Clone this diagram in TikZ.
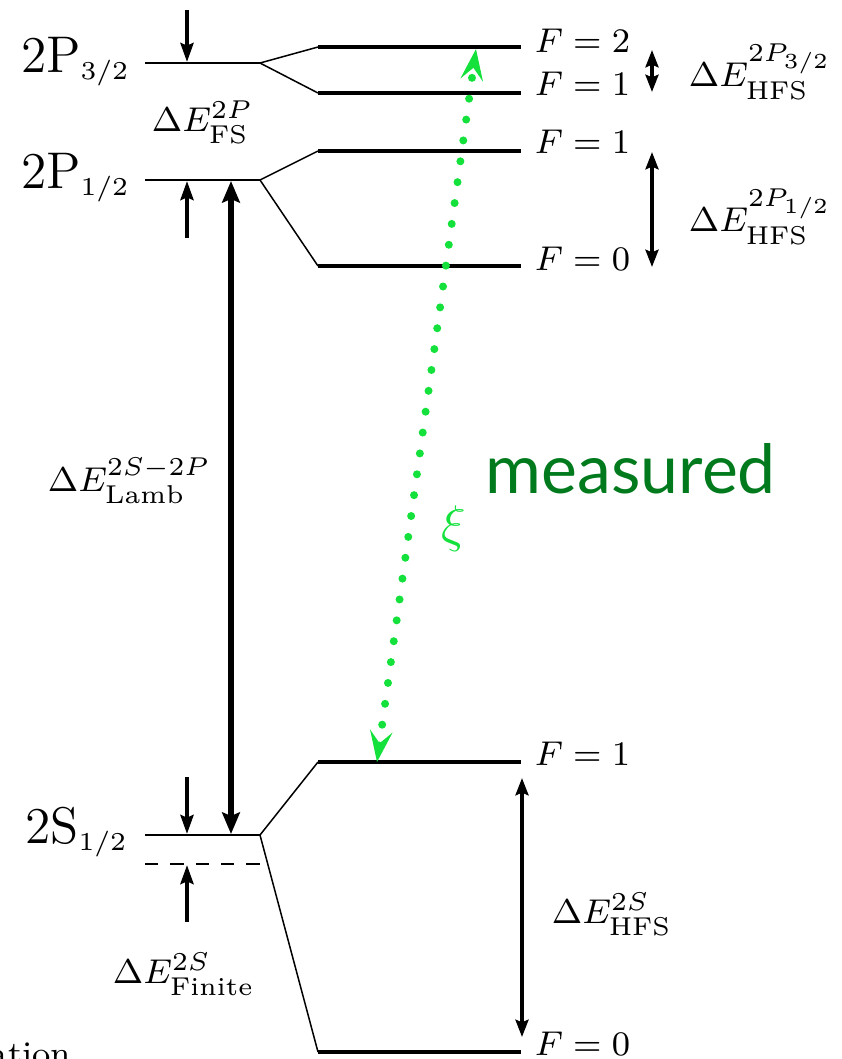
\documentclass[tikz,border=0pt]{standalone}
\usepackage{fontspec}
\newfontfamily\measfont{Lato}
\usetikzlibrary{arrows.meta}
\definecolor{lgreen}{RGB}{20,225,60}
\definecolor{dgreen}{RGB}{0,122,28}
\begin{document}
\begin{tikzpicture}[x=0.2326pt,y=-0.2326pt,
  lvl/.style={line width=0.63pt},
  hfslvl/.style={line width=0.95pt},
  fan/.style={line width=0.35pt},
  finlvl/.style={line width=0.63pt,dash pattern=on 3.1pt off 2.8pt},
  sarr/.style={line width=1.15pt,-{Stealth[length=4.4pt,width=3pt,inset=0.6pt]}},
  lambarr/.style={line width=1.6pt,{Stealth[length=5pt,width=4.1pt,inset=0.8pt]}-{Stealth[length=5pt,width=4.1pt,inset=0.8pt]}},
  harr/.style={line width=0.95pt,{Stealth[length=4pt,width=3pt,inset=0.6pt]}-{Stealth[length=4pt,width=3pt,inset=0.6pt]}},
  garr/.style={lgreen,line width=1.86pt,line cap=round,dash pattern=on 0pt off 4.9pt,
     {Stealth[length=7.2pt,width=5.2pt,inset=2.8pt]}-{Stealth[length=7.2pt,width=5.2pt,inset=2.8pt]}},
  lbl/.style={inner sep=0pt},
  dlbl/.style={inner sep=0pt,font=\footnotesize},
  flbl/.style={inner sep=0pt,anchor=base west,font=\footnotesize},
]
\useasboundingbox (0,0) rectangle (842,1059);

% fine-structure levels
\coordinate (p32L) at (145,63);  \coordinate (p32R) at (260,63);
\coordinate (p12L) at (145,180); \coordinate (p12R) at (260,180);
\coordinate (s12L) at (145,835); \coordinate (s12R) at (260,835);
\coordinate (finL) at (145,864); \coordinate (finR) at (260,864);
% hyperfine levels
\coordinate (a2L) at (318,47);   \coordinate (a2R) at (521,47);
\coordinate (a1L) at (318,93);   \coordinate (a1R) at (521,93);
\coordinate (b1L) at (318,151);  \coordinate (b1R) at (521,151);
\coordinate (b0L) at (318,266);  \coordinate (b0R) at (521,266);
\coordinate (c1L) at (318,762);  \coordinate (c1R) at (521,762);
\coordinate (c0L) at (318,1052); \coordinate (c0R) at (521,1052);

\draw[lvl] (p32L) -- (p32R);
\draw[lvl] (p12L) -- (p12R);
\draw[lvl] (s12L) -- (s12R);
\draw[finlvl] (finL) -- (finR);

\draw[hfslvl] (a2L) -- (a2R);
\draw[hfslvl] (a1L) -- (a1R);
\draw[hfslvl] (b1L) -- (b1R);
\draw[hfslvl] (b0L) -- (b0R);
\draw[hfslvl] (c1L) -- (c1R);
\draw[hfslvl] (c0L) -- (c0R);

\draw[fan] (p32R) -- (a2L);
\draw[fan] (p32R) -- (a1L);
\draw[fan] (p12R) -- (b1L);
\draw[fan] (p12R) -- (b0L);
\draw[fan] (s12R) -- (c1L);
\draw[fan] (s12R) -- (c0L);

% level labels
\node[lbl,anchor=base east] (n32) at (131,72) {\large$\mathrm{2P}_{\scriptscriptstyle 3/2}$};
\node[lbl,anchor=base east] (n12) at (131,188) {\large$\mathrm{2P}_{\scriptscriptstyle 1/2}$};
\node[lbl,anchor=base east] (ns) at (129,843) {\large$\mathrm{2S}_{\scriptscriptstyle 1/2}$};

% fine structure arrows
\coordinate (fsA) at (187,10);  \coordinate (fsAh) at (187,62);
\coordinate (fsB) at (187,238); \coordinate (fsBh) at (187,181);
\draw[sarr] (fsA) -- (fsAh);
\draw[sarr] (fsB) -- (fsBh);
\node[dlbl,anchor=base west] (dfs) at (151,131) {$\Delta E^{2P}_{\mathrm{FS}}$};

% Lamb shift
\coordinate (lbT) at (231,181); \coordinate (lbB) at (231,834);
\draw[lambarr] (lbT) -- (lbB);
\node[dlbl,anchor=base west] (dlamb) at (47,491) {$\Delta E^{2S-2P}_{\mathrm{Lamb}}$};

% finite size
\coordinate (fzA) at (187,777); \coordinate (fzAh) at (187,834);
\coordinate (fzB) at (187,922); \coordinate (fzBh) at (187,865);
\draw[sarr] (fzA) -- (fzAh);
\draw[sarr] (fzB) -- (fzBh);
\node[dlbl,anchor=base west] (dfin) at (112,983) {$\Delta E^{2S}_{\mathrm{Finite}}$};

% F labels
\node[flbl] (f1) at (534,52) {$F=2$};
\node[flbl] (f2) at (534,95) {$F=1$};
\node[flbl] (f3) at (534,153) {$F=1$};
\node[flbl] (f4) at (534,270) {$F=0$};
\node[flbl] (f5) at (534,765) {$F=1$};
\node[flbl] (f6) at (534,1055) {$F=0$};

% HFS arrows
\coordinate (h1T) at (652,50);  \coordinate (h1B) at (652,92);
\coordinate (h2T) at (652,152); \coordinate (h2B) at (652,267);
\coordinate (h3T) at (522,778); \coordinate (h3B) at (522,1037);
\draw[harr] (h1T) -- (h1B);
\draw[harr] (h2T) -- (h2B);
\draw[harr] (h3T) -- (h3B);
\node[dlbl,anchor=base west] (dh1) at (688,86) {$\Delta E^{2P_{3/2}}_{\mathrm{HFS}}$};
\node[dlbl,anchor=base west] (dh2) at (688,231) {$\Delta E^{2P_{1/2}}_{\mathrm{HFS}}$};
\node[dlbl,anchor=base west] (dh3) at (551,923) {$\Delta E^{2S}_{\mathrm{HFS}}$};

% measured transition
\coordinate (gS) at (377,762); \coordinate (gT) at (476,49);
\draw[garr] (gS) -- (gT);
\node[lbl,text=lgreen] (xi) at (454,529) {\large$\xi$};
\node[lbl,anchor=base west,text=dgreen] (meas) at (485,493) {\measfont\fontsize{15.8}{19}\selectfont measured};

% clipped caption fragment
\begin{scope}
\clip (0,0) rectangle (842,1059);
\node[lbl,anchor=base east] (cap) at (72,1065) {\footnotesize ation};
\end{scope}
\end{tikzpicture}
\end{document}
